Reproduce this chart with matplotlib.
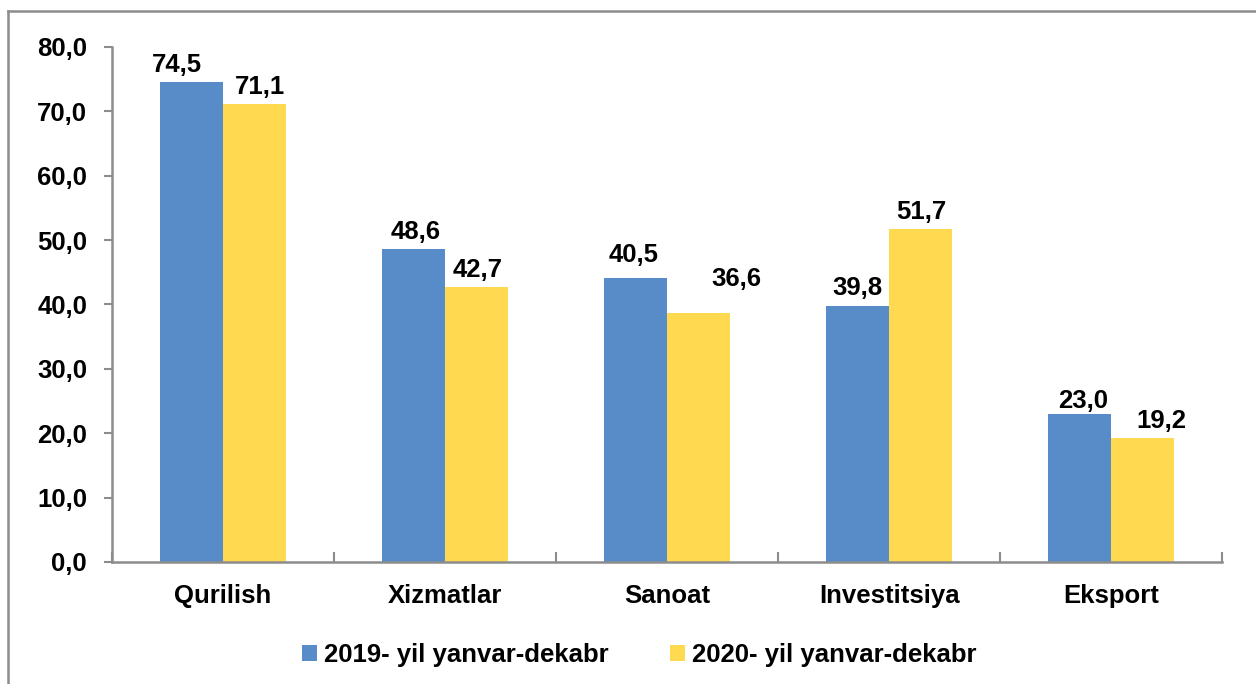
import numpy as np
from matplotlib import pyplot as plt
from matplotlib.lines import Line2D

categories = ["Qurilish", "Xizmatlar", "Sanoat", "Investitsiya", "Eksport"]
# bar heights as drawn in the picture
values_2019 = [74.5, 48.6, 44.1, 39.8, 23.0]
values_2020 = [71.1, 42.7, 38.7, 51.7, 19.2]
# numbers printed on the bars
labels_2019 = ["74,5", "48,6", "40,5", "39,8", "23,0"]
labels_2020 = ["71,1", "42,7", "36,6", "51,7", "19,2"]
series_names = ["2019- yil yanvar-dekabr", "2020- yil yanvar-dekabr"]
yticks = [0, 10, 20, 30, 40, 50, 60, 70, 80]

# hand-placed labels in the original (pixel nudges)
nudge_2019 = [(-14, 0), (2, 0), (-2, 6), (0, 0), (4, -5)]
nudge_2020 = [(5, 0), (1, 0), (38, 16), (1, 0), (19, 0)]

plt.rcParams["font.family"] = ["Liberation Sans", "DejaVu Sans"]
plt.rcParams["font.weight"] = "bold"

BLUE = "#588CC8"
YELLOW = "#FFD950"
GREY = "#8C8C8C"
FS = 18.5

fig = plt.figure(figsize=(12.56, 6.84), dpi=100)
ax = fig.add_axes([0.0892, 0.1784, 0.8838, 0.7529])

x = np.arange(len(categories))
w = 0.285
b1 = ax.bar(x - w / 2, values_2019, w, color=BLUE, label=series_names[0])
b2 = ax.bar(x + w / 2, values_2020, w, color=YELLOW, label=series_names[1])

for bars, labs, nudges in [(b1, labels_2019, nudge_2019), (b2, labels_2020, nudge_2020)]:
    for rect, lab, (dx, dy) in zip(bars, labs, nudges):
        ax.annotate(lab, (rect.get_x() + rect.get_width() / 2, rect.get_height()),
                    xytext=(dx * 0.72, 4 + dy * 0.72), textcoords="offset points",
                    ha="center", va="bottom", fontsize=FS, fontweight="bold")

ax.set_xlim(-0.5, len(categories) - 0.5)
ax.set_ylim(0, 80)
ax.set_yticks(yticks)
ax.set_yticklabels([f"{v:.1f}".replace(".", ",") for v in yticks])

# category labels centred, tick marks on the boundaries
ax.set_xticks(np.arange(len(categories) + 1) - 0.5)
ax.set_xticklabels([])
ax.set_xticks(x, minor=True)
ax.set_xticklabels(categories, minor=True)
ax.tick_params(axis="x", which="major", direction="in", length=7, width=1.5, color=GREY)
ax.tick_params(axis="x", which="minor", length=0, pad=16, labelsize=FS)
ax.tick_params(axis="y", direction="out", length=6, width=1.5, color=GREY, pad=12, labelsize=FS)
for t in ax.get_xticklabels(minor=True) + ax.get_yticklabels():
    t.set_fontweight("bold")

for side in ["top", "right"]:
    ax.spines[side].set_visible(False)
for side in ["left", "bottom"]:
    ax.spines[side].set_color(GREY)
    ax.spines[side].set_linewidth(1.8)

fig.legend(loc="center", bbox_to_anchor=(639 / 1256, 1 - 655 / 684), ncol=2, frameon=False,
           handlelength=0.6, handleheight=0.6, handletextpad=0.25,
           columnspacing=2.4, prop={"weight": "bold", "size": FS})

# outer chart frame (top and left edges visible)
fig.add_artist(Line2D([8 / 1256, 1.0], [1 - 11 / 684, 1 - 11 / 684],
                      transform=fig.transFigure, color=GREY, linewidth=1.8))
fig.add_artist(Line2D([8 / 1256, 8 / 1256], [0.0, 1 - 11 / 684],
                      transform=fig.transFigure, color=GREY, linewidth=1.8))

fig.savefig("out.png", dpi=100)
plt.close(fig)
